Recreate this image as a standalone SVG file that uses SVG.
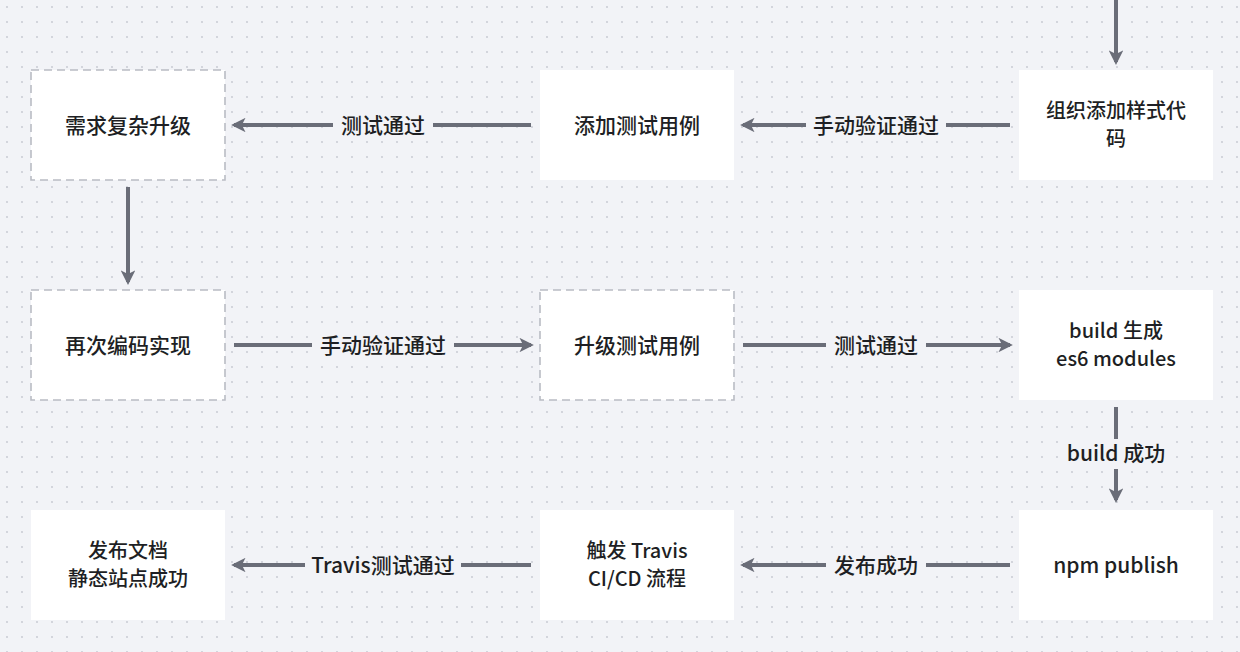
<svg xmlns="http://www.w3.org/2000/svg" width="1240" height="652" viewBox="0 0 1240 652">
<defs>
<pattern id="dots" x="0" y="0" width="15" height="15" patternUnits="userSpaceOnUse">
<circle cx="7" cy="7" r="0.9" fill="#c4c7d0"/>
</pattern>
<marker id="ah" viewBox="0 0 10 10" refX="8" refY="5" markerWidth="3.6" markerHeight="3.6" orient="auto">
<path d="M0,0 L10,5 L0,10 L2.5,5 Z" fill="#6a6d78"/>
</marker>
<style>
.box{fill:#ffffff;stroke:none}
.dash{fill:#ffffff;stroke:#b9bcc4;stroke-width:1.6;stroke-dasharray:8 5}
.t{font-family:"Noto Sans CJK SC","Noto Sans",sans-serif;font-size:21px;font-weight:500;fill:#1e1f24;text-anchor:middle}
.t2{font-family:"Noto Sans CJK SC","Noto Sans",sans-serif;font-size:20px;font-weight:500;fill:#1e1f24;text-anchor:middle}
.l{font-family:"Noto Sans CJK SC","Noto Sans",sans-serif;font-size:21px;font-weight:500;fill:#1e1f24;text-anchor:middle}
.c{stroke:#6a6d78;stroke-width:4;fill:none;marker-end:url(#ah)}
.lb{fill:#f2f3f7}
</style>
</defs>
<rect width="1240" height="652" fill="#f2f3f7"/>
<rect width="1240" height="652" fill="url(#dots)"/>

<g id="connectors">
<line class="c" x1="1116" y1="0" x2="1116" y2="62"/>
<line class="c" x1="1010" y1="125" x2="743" y2="125"/>
<rect class="lb" x="806" y="110" width="140" height="30"/>
<text class="l" x="876" y="133">手动验证通过</text>
<line class="c" x1="531" y1="125" x2="234" y2="125"/>
<rect class="lb" x="333" y="110" width="100" height="30"/>
<text class="l" x="383" y="133">测试通过</text>
<line class="c" x1="128" y1="187" x2="128" y2="282"/>
<line class="c" x1="234" y1="345" x2="531" y2="345"/>
<rect class="lb" x="312" y="330" width="142" height="30"/>
<text class="l" x="383" y="353">手动验证通过</text>
<line class="c" x1="743" y1="345" x2="1010" y2="345"/>
<rect class="lb" x="826" y="330" width="100" height="30"/>
<text class="l" x="876" y="353">测试通过</text>
<line class="c" x1="1116" y1="407" x2="1116" y2="500"/>
<rect class="lb" x="1058" y="439" width="116" height="30"/>
<text class="l" x="1116" y="461">build 成功</text>
<line class="c" x1="1010" y1="565" x2="743" y2="565"/>
<rect class="lb" x="826" y="550" width="100" height="30"/>
<text class="l" x="876" y="573">发布成功</text>
<line class="c" x1="531" y1="565" x2="234" y2="565"/>
<rect class="lb" x="305" y="550" width="156" height="30"/>
<text class="l" x="383" y="573">Travis测试通过</text>
</g>

<g id="n1"><rect class="dash" x="31" y="70" width="194" height="110"/><text class="t" x="128" y="133">需求复杂升级</text></g>
<g id="n2"><rect class="box" x="540" y="70" width="194" height="110"/><text class="t" x="637" y="133">添加测试用例</text></g>
<g id="n3"><rect class="box" x="1019" y="70" width="194" height="110"/><text class="t2" x="1116" y="118">组织添加样式代</text><text class="t2" x="1116" y="146">码</text></g>
<g id="n4"><rect class="dash" x="31" y="290" width="194" height="110"/><text class="t" x="128" y="353">再次编码实现</text></g>
<g id="n5"><rect class="dash" x="540" y="290" width="194" height="110"/><text class="t" x="637" y="353">升级测试用例</text></g>
<g id="n6"><rect class="box" x="1019" y="290" width="194" height="110"/><text class="t2" x="1116" y="338">build 生成</text><text class="t2" x="1116" y="366">es6 modules</text></g>
<g id="n7"><rect class="box" x="31" y="510" width="194" height="110"/><text class="t2" x="128" y="558">发布文档</text><text class="t2" x="128" y="586">静态站点成功</text></g>
<g id="n8"><rect class="box" x="540" y="510" width="194" height="110"/><text class="t2" x="637" y="558">触发 Travis</text><text class="t2" x="637" y="586">CI/CD 流程</text></g>
<g id="n9"><rect class="box" x="1019" y="510" width="194" height="110"/><text class="t" x="1116" y="573">npm publish</text></g>
</svg>
